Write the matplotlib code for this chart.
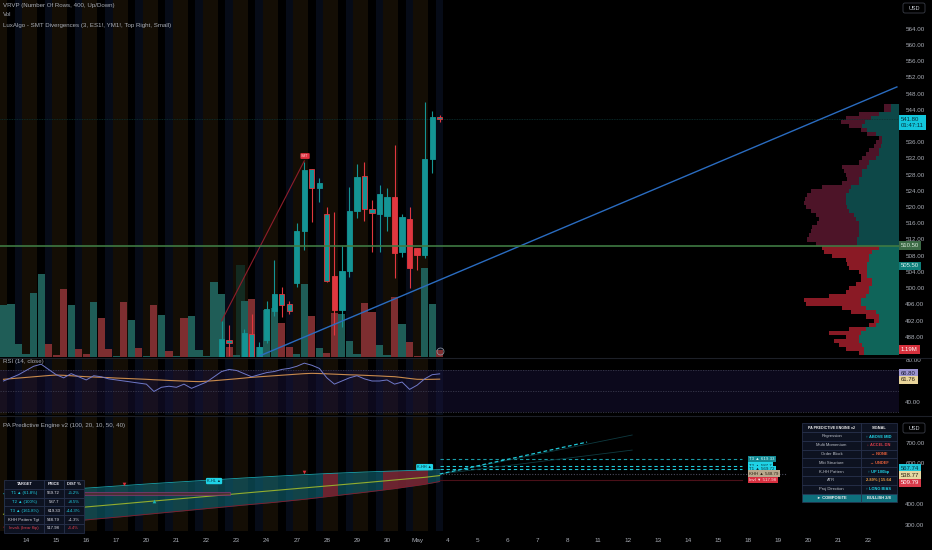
import matplotlib
matplotlib.use("Agg")
import matplotlib.pyplot as plt
import matplotlib.transforms as mtransforms
from matplotlib.patches import Rectangle, FancyBboxPatch
import numpy as np

plt.rcParams["font.family"] = ["Liberation Sans", "DejaVu Sans"]

# --------------------------------------------------
# ---------------------- data ----------------------
# --------------------------------------------------
day_labels = ["14", "15", "16", "17", "20", "21", "22", "23", "24", "27", "28", "29", "30",
              "May", "4", "5", "6", "7", "8", "11", "12", "13", "14", "15", "18", "19",
              "20", "21", "22"]

# volume per bar (millions), 1 = up bar, 0 = down bar
volume_m = [8.84, 8.96, 2.16, 0.46, 10.88, 14.11, 2.26, 0.34, 11.51, 8.84,
            1.36, 0.46, 9.40, 6.68, 1.36, 0.17, 9.35, 6.34, 1.58, 0.17,
            8.84, 7.14, 1.02, 0.17, 6.68, 6.92, 1.19, 0.17, 12.75, 10.66,
            1.75, 0.34, 9.52, 9.81, 1.70, 7.99, 8.38, 5.83, 1.75, 0.56,
            12.36, 6.97, 1.58, 0.63, 7.48, 7.36, 2.72, 0.46, 9.13, 7.65,
            2.04, 0.34, 10.20, 5.66, 2.60, 0.17, 15.08, 9.06, 1.19]
vol_up = [1, 1, 1, 1, 1, 1, 0, 0, 0, 1,
          0, 0, 1, 0, 0, 1, 0, 1, 0, 1,
          0, 1, 0, 1, 0, 1, 1, 1, 1, 1,
          0, 1, 1, 0, 1, 1, 1, 0, 0, 1,
          1, 0, 1, 0, 0, 1, 1, 1, 0, 0,
          1, 1, 0, 1, 0, 0, 1, 1, 0]

# candles visible in the price window (bars 29..58)
first_candle = 29
opens = [482.7, 487.3, 481.5, 482.6, 488.7, 482.6, 487.2, 494.3, 498.5, 496.0,
         501.2, 514.2, 529.3, 524.6, 518.3, 503.0, 494.6, 504.1, 519.0, 527.7,
         519.5, 518.3, 517.9, 522.4, 508.8, 517.1, 509.9, 508.2, 531.9, 542.2]
highs = [491.9, 490.9, 482.6, 489.9, 493.5, 486.8, 496.8, 506.9, 500.3, 496.8,
         516.0, 531.2, 529.5, 527.1, 520.0, 518.9, 510.4, 525.0, 530.6, 531.0,
         521.7, 525.5, 524.6, 535.3, 518.2, 520.0, 509.9, 545.9, 543.6, 542.8]
lows = [482.4, 483.2, 480.5, 482.0, 482.0, 482.0, 486.4, 493.1, 492.9, 493.6,
        500.3, 509.4, 516.4, 521.3, 501.6, 488.4, 490.5, 502.8, 517.2, 516.6,
        508.8, 509.0, 514.0, 502.6, 507.8, 500.1, 504.5, 507.4, 528.3, 541.0]
closes = [487.4, 486.4, 482.2, 488.8, 482.5, 485.5, 494.8, 498.5, 495.8, 494.3,
          514.2, 529.2, 524.6, 525.9, 501.8, 494.6, 504.1, 519.0, 527.4, 519.6,
          518.5, 523.2, 522.4, 508.6, 517.6, 504.9, 508.2, 531.9, 542.3, 541.8]
tinted_bars = [30, 33, 37, 38, 41, 43, 48, 49, 58]

last_price = 541.80
level_line = 510.50
level_2 = 505.50
smt_line_bars = [29, 40]
smt_line_prices = [491.9, 531.4]
trend_bars = [34.1, 118.8]
trend_prices = [483.3, 549.65]
price_ticks = [488, 492, 496, 500, 504, 508, 512, 516, 520, 524, 528, 532, 536,
               544, 548, 552, 556, 560, 564]

# visible range volume profile (1 point rows)
vp_price = list(range(545, 483, -1))
vp_total = [15, 15, 40, 53, 58, 50, 38, 32, 20, 23,
            25, 30, 33, 37, 40, 57, 55, 53, 52, 57,
            77, 88, 92, 94, 95, 93, 88, 83, 80, 82,
            87, 88, 90, 92, 83, 77, 75, 67, 53, 52,
            50, 40, 38, 38, 43, 50, 53, 70, 95, 93,
            57, 48, 33, 25, 30, 50, 70, 53, 65, 60,
            53, 40]
vp_up = [8, 8, 20, 28, 34, 37, 32, 23, 17, 17,
         18, 20, 20, 23, 30, 32, 37, 37, 40, 40,
         48, 50, 53, 53, 53, 52, 50, 45, 43, 40,
         40, 40, 40, 42, 42, 20, 27, 30, 30, 32,
         32, 32, 32, 27, 27, 30, 30, 33, 38, 38,
         33, 23, 20, 20, 23, 33, 38, 40, 40, 37,
         35, 35]

rsi = [60, 63, 66, 70, 74, 76, 71, 66, 63, 67,
       64, 61, 65, 64, 62, 61, 60, 59, 58, 57,
       50, 54, 55, 54, 57, 53, 56, 59, 64, 69,
       71, 70, 67, 64, 66, 68, 69, 71, 72, 74,
       77, 75, 72, 63, 57, 60, 63, 65, 62, 60,
       60, 61, 57, 59, 52, 56, 62, 66, 66.8]
rsi_ma = [61.6, 62.2, 62.8, 63.4, 64.0, 64.6, 65.2, 65.7, 65.4, 65.0,
          64.5, 64.1, 63.8, 63.5, 63.2, 62.8, 62.5, 62.2, 61.9, 61.6,
          61.2, 60.9, 60.5, 60.2, 59.9, 59.6, 59.4, 59.8, 60.3, 60.9,
          61.5, 62.1, 62.8, 63.5, 64.0, 64.5, 65.0, 65.5, 66.0, 66.5,
          67.0, 67.3, 67.1, 66.8, 66.5, 66.2, 65.9, 65.7, 65.4, 65.1,
          64.8, 64.4, 64.1, 63.3, 62.4, 61.6, 61.5, 61.6, 61.76]

# PA Predictive Engine regression channel
chan_bars = [0, 4, 8, 12, 16, 20, 24, 28, 32, 36, 40, 44, 48, 52, 56, 58]
chan_upper = [450, 460, 470, 480, 490, 500, 509, 518, 527, 535, 543, 550, 556, 561, 565.5, 567.74]
chan_mid = [350.2, 363.0, 376.0, 388.8, 401.5, 414.6, 427.3, 440.0, 453.2, 465.9,
            478.5, 491.2, 503.9, 517.1, 530.0, 538.77]
chan_lower = [287, 299, 312, 326, 339, 353, 367, 381, 395, 408, 423, 440, 457, 475, 496, 509.79]
bear_spans = [(43, 44), (51, 56)]
order_block = (10.2, 30.1, 444, 460)
bear_marks_bar = [16, 40]
bear_marks_price = [497.6, 556.0]
bull_marks_bar = [20]
bull_marks_price = [414.6]
callout_bars = [28, 56]
callout_prices = [512, 580]
callout_texts = ["K-HL ▲", "K-HH ▲"]

target_names = ["T1 ▲ (61.8%)", "T2 ▲ (100%)", "T3 ▲ (161.8%)", "KHH Pattern Tgt", "Invali. (bear flip)"]
target_prices = [569.72, 587.7, 619.33, 548.79, 517.98]
target_dist = ["+5.2%", "+8.5%", "+14.3%", "+1.3%", "-4.4%"]
proj_bars = [58, 77.6]
proj_prices = [546, 702]
cone_bars = [58, 83.6]
cone_hi = [546, 736.6]
cone_lo = [546, 663]

signal_names = ["Regression", "Multi Momentum", "Order Block", "Mkt Structure", "K-HH Pattern",
                "ATR", "Proj Direction", "► COMPOSITE"]
signal_values = ["↑ ABOVE MID", "↓ ACCEL DN", "→ NONE", "→ UNDEF", "↑ UP 100bp",
                 "2.89% | 15.64", "↑ LONG BIAS", "BULLISH 2/8"]

# --------------------------------------------------
# --------------------- layout ---------------------
# --------------------------------------------------
W, H = 932, 550
PLOT_R = 899
XL = (-0.465, 119.08)
n_bars = len(volume_m)

BG = "#000000"
TXT = "#a9adb6"
TEAL = "#149494"
RED = "#e0373f"
CYAN = "#1fd3e6"
session_cols = {0: "#140e05", 2: "#060b17", 3: "#140e05"}

fig = plt.figure(figsize=(W / 100, H / 100), dpi=100, facecolor=BG)


def rect(top, bottom):
    return [0, 1 - bottom / H, PLOT_R / W, (bottom - top) / H]


def sessions(ax):
    for k in range(n_bars):
        if k % 4 in session_cols:
            ax.axvspan(k - 0.5, k + 0.5, color=session_cols[k % 4], lw=0, zorder=0)


def price_label(ax, y, text, fc, tc):
    tr = mtransforms.blended_transform_factory(fig.transFigure, ax.transData)
    ax.text(901 / W, y, text, transform=tr, fontsize=4.3, color=tc, ha="left", va="center",
            linespacing=1.3, bbox=dict(boxstyle="square,pad=0.3", fc=fc, ec="none"),
            zorder=30, clip_on=False)


def clean(ax):
    for s in ax.spines.values():
        s.set_visible(False)
    ax.set_xlim(*XL)


MAIN_Y = (483.0, 571.1)

# background + volume + profile + candles (layered axes)
ax_bg = fig.add_axes(rect(0, 357), zorder=1)
ax_bg.set_facecolor(BG)
clean(ax_bg)
ax_bg.set_xticks([])
ax_bg.set_yticks([])
sessions(ax_bg)

ax_vol = fig.add_axes(rect(0, 357), zorder=2)
ax_vol.axis("off")
ax_vol.set_xlim(*XL)
ax_vol.set_ylim(0, 60.7)
ax_vol.bar(range(n_bars), volume_m, width=0.95,
           color=["#1f5d57" if u else "#7d2e30" for u in vol_up], lw=0)
ax_vol.bar(31.5, 15.6, width=1.1, color="#132a20", lw=0, zorder=0)

ax_vp = fig.add_axes(rect(0, 357), zorder=3)
ax_vp.axis("off")
ax_vp.set_xlim(PLOT_R, 0)
ax_vp.set_ylim(*MAIN_Y)
for p, tot, up in zip(vp_price, vp_total, vp_up):
    inside = p <= level_line
    ax_vp.barh(p, up, height=1.0, left=0, color="#0f6459" if inside else "#0d4848", lw=0)
    ax_vp.barh(p, tot - up, height=1.0, left=up, color="#8a1a25" if inside else "#4d1428", lw=0)

ax = fig.add_axes(rect(0, 357), zorder=4)
ax.patch.set_alpha(0)
clean(ax)
ax.set_ylim(*MAIN_Y)
ax.set_xticks([])
ax.set_yticks(price_ticks)
ax.set_yticklabels([f"{v:.2f}" for v in price_ticks])
ax.yaxis.tick_right()
ax.tick_params(axis="y", length=0, pad=4.5, labelsize=4.5, labelcolor=TXT)

ax.axhline(last_price, color="#0c3434", lw=0.6, ls=(0, (1, 1)), zorder=1)
for i, (o, h, l, c) in enumerate(zip(opens, highs, lows, closes)):
    k = first_candle + i
    col = TEAL if c >= o else RED
    face, edge = col, col
    if k in tinted_bars:
        face, edge = TEAL, RED
    ax.vlines(k, l, h, color=edge, lw=0.8, zorder=3)
    ax.add_patch(Rectangle((k - 0.35, min(o, c)), 0.7, max(abs(c - o), 0.2),
                           fc=face, ec=edge, lw=0.6, zorder=4))

ax.plot(smt_line_bars, smt_line_prices, color="#8e1d2b", lw=0.8, zorder=5)
ax.text(smt_line_bars[1] + 0.1, smt_line_prices[1] + 1.2, "SMT", fontsize=2.6, color="#ffd0d0",
        ha="center", va="center", zorder=6,
        bbox=dict(boxstyle="round,pad=0.25", fc="#e0303f", ec="none"))
ax.plot(trend_bars, trend_prices, color="#2a6cc0", lw=1.0, zorder=5)
ax.axhline(level_line, color="#3f7a43", lw=1.2, zorder=6)
ax.plot(58, 484.6, marker="o", ms=5, mfc="none", mec="#8a8f9a", mew=0.6, zorder=6)

price_label(ax, last_price - 0.9, "541.80\n01:47:11", "#13c6dc", "#05303a")
price_label(ax, level_line, "510.50", "#3c6a45", "#d8e8d8")
price_label(ax, level_2, "505.50", "#0e7e7a", "#d8f0f0")
price_label(ax, 484.9, "1.19M", "#d6303c", "#ffffff")

# --------------------------------------------------
# ----------------------- RSI ----------------------
# --------------------------------------------------
ax_r = fig.add_axes(rect(358, 415), zorder=4)
ax_r.set_facecolor(BG)
clean(ax_r)
ax_r.set_ylim(27.6, 81.9)
sessions(ax_r)
ax_r.axhspan(30, 70, color="#1c1440", alpha=0.45, lw=0, zorder=1)
for lvl in (70, 50, 30):
    ax_r.axhline(lvl, color="#3a3a4e", lw=0.6, ls=(0, (1.5, 1.5)), zorder=2)
ax_r.plot(range(n_bars), rsi_ma, color="#c98a4c", lw=0.8, zorder=3)
ax_r.plot(range(n_bars), rsi, color="#6f78c8", lw=0.7, zorder=4)
ax_r.set_xticks([])
ax_r.set_yticks([80, 40])
ax_r.set_yticklabels(["80.00", "40.00"])
ax_r.yaxis.tick_right()
ax_r.tick_params(axis="y", length=0, pad=4.5, labelsize=4.5, labelcolor=TXT)
price_label(ax_r, rsi[-1] + 0.8, "66.80", "#9c94d0", "#1a1a30")
price_label(ax_r, rsi_ma[-1] - 0.8, "61.76", "#e8d49a", "#2a2010")

# --------------------------------------------------
# ------------- PA Predictive Engine v2 ------------
# --------------------------------------------------
ax_p = fig.add_axes(rect(416, 531), zorder=4)
ax_p.set_facecolor(BG)
clean(ax_p)
ax_p.set_ylim(268.3, 829.3)
sessions(ax_p)

band = ax_p.fill_between(chan_bars, chan_lower, chan_upper, color="#127080", alpha=0.55, lw=0, zorder=2)
band_path = band.get_paths()[0]
for a, b in bear_spans:
    sp = ax_p.axvspan(a - 0.5, b + 0.5, color="#8a1a28", alpha=0.75, lw=0, zorder=3)
    sp.set_clip_path(band_path, ax_p.transData)
ax_p.plot(chan_bars, chan_upper, color="#1aa3ad", lw=0.6, zorder=4)
ax_p.plot(chan_bars, chan_lower, color="#8a1a2a", lw=0.6, zorder=4)
ax_p.plot(chan_bars, chan_mid, color="#93ad2e", lw=0.8, zorder=4)

x0, x1, p0, p1 = order_block
ax_p.add_patch(Rectangle((x0, p0), x1 - x0, p1 - p0, fc="#5a2c30", ec="#8a3a7a", lw=0.6,
                         alpha=0.8, zorder=4))
ax_p.scatter(bear_marks_bar, bear_marks_price, marker="v", s=7, color="#d8303c", lw=0, zorder=5)
ax_p.scatter(bull_marks_bar, bull_marks_price, marker="^", s=7, color="#18b4b4", lw=0, zorder=5)
for k, p, t in zip(callout_bars, callout_prices, callout_texts):
    ax_p.text(k, p, t, fontsize=2.8, color="#07303a", ha="center", va="center", zorder=6,
              bbox=dict(boxstyle="round,pad=0.3", fc=CYAN, ec="none"))

proj_end = 98.2
line_styles = {0: ("#20c8d8", (0, (3, 2.5))), 1: ("#20c8d8", (0, (3, 2.5))),
               2: ("#1a9aa6", (0, (3, 2.5)))}
for i in range(3):
    col, ls = line_styles[i]
    ax_p.plot([proj_bars[0], proj_end], [target_prices[i]] * 2, color=col, lw=0.8, ls=ls, zorder=5)
ax_p.plot([proj_bars[0], 104], [target_prices[3]] * 2, color="#4a4a5c", lw=0.8,
          ls=(0, (1, 1.5)), zorder=5)
ax_p.plot([proj_bars[0], proj_end], [target_prices[4]] * 2, color="#4a1018", lw=0.8, zorder=5)
ax_p.plot(proj_bars, proj_prices, color="#20c8d8", lw=0.9, ls=(0, (3, 2)), zorder=6)
ax_p.plot(cone_bars, cone_hi, color="#0e3a40", lw=0.6, zorder=5)
ax_p.plot(cone_bars, cone_lo, color="#0e3a40", lw=0.6, zorder=5)

proj_labels = [("T3 ▲ 619.33", 2, "#128a94", "#d8f8f8"),
               ("T2 ▲ 587.7", 1, CYAN, "#06303a"),
               ("T1 ▲ 569.72", 0, CYAN, "#06303a"),
               ("KHH ▲ 548.79", 3, "#b8a78c", "#2a2010"),
               ("Invl ▼ 517.98", 4, "#d83040", "#ffe0e0")]
for txt, idx, fc, tc in proj_labels:
    ax_p.text(proj_end + 1, target_prices[idx], txt, fontsize=3.2, color=tc, ha="left",
              va="center", zorder=7, bbox=dict(boxstyle="square,pad=0.25", fc=fc, ec="none"))

ax_p.set_yticks([700, 600, 400, 300])
ax_p.set_yticklabels(["700.00", "600.00", "400.00", "300.00"])
ax_p.yaxis.tick_right()
ax_p.tick_params(axis="y", length=0, pad=4.5, labelsize=4.5, labelcolor=TXT)
ax_p.set_xticks([3 + 4 * j for j in range(len(day_labels))])
ax_p.set_xticklabels(day_labels)
ax_p.tick_params(axis="x", length=0, pad=5, labelsize=4.6, labelcolor=TXT)
price_label(ax_p, 574, "567.74", "#20c5d8", "#06303a")
price_label(ax_p, chan_mid[-1], "538.77", "#e6d8a2", "#2a2010")
price_label(ax_p, 503, "509.79", "#d83a4a", "#ffffff")

# --------------------------------------------------
# ---------------- overlay (legends) ---------------
# --------------------------------------------------
ov = fig.add_axes([0, 0, 1, 1], zorder=20)
ov.axis("off")
ov.set_xlim(0, W)
ov.set_ylim(H, 0)

for yy in (357.5, 415.5):
    ov.plot([0, W], [yy, yy], color="#1d2028", lw=0.8)

legend_lines = [(5, "VRVP (Number Of Rows, 400, Up/Down)"), (15, "Vol"),
                (25, "LuxAlgo - SMT Divergences (3, ES1!, YM1!, Top Right, Small)"),
                (361, "RSI (14, close)"), (426, "PA Predictive Engine v2 (100, 20, 10, 50, 40)")]
for yy, t in legend_lines:
    ov.text(3, yy, t, fontsize=4.4, color=TXT, ha="left", va="center")

for yy in (3, 423):
    ov.add_patch(FancyBboxPatch((903, yy), 22, 10, boxstyle="round,pad=0,rounding_size=2",
                                fc=BG, ec="#3a3e48", lw=0.6))
    ov.text(914, yy + 5, "USD", fontsize=4.0, color="#c8ccd4", ha="center", va="center")


def table(x0, y0, col_w, row_h, rows):
    y = y0
    for cells, bg in rows:
        x = x0
        for (txt, col, bold, size), w in zip(cells, col_w):
            ov.add_patch(Rectangle((x, y), w, row_h, fc=bg, ec="#2a3450", lw=0.5))
            ov.text(x + w / 2, y + row_h / 2, txt, color=col, fontsize=size, ha="center",
                    va="center", fontweight="bold" if bold else "normal")
            x += w
        y += row_h


tbl_bg = "#0d1220"
t_cols = [CYAN, CYAN, CYAN, "#d0d0d8", "#e0404e"]
rows = [([("TARGET", "#e8e8f0", True, 2.9), ("PRICE", "#e8e8f0", True, 2.9),
          ("DIST %", "#e8e8f0", True, 2.9)], tbl_bg)]
for name, pr, dist, col in zip(target_names, target_prices, target_dist, t_cols):
    rows.append(([(name, col, False, 3.1), (f"{pr:g}", "#e8e8f0", False, 3.1),
                  (dist, col, False, 3.1)], tbl_bg))
table(4, 480, [40, 19.5, 20], 8.8, rows)

sig_cols = [CYAN, "#e0404e", "#e8603a", "#e8603a", CYAN, "#f0a040", CYAN, "#f0f0f0"]
rows = [([("PA PREDICTIVE ENGINE v2", "#f0f0f0", True, 2.6), ("SIGNAL", "#f0f0f0", True, 2.8)], tbl_bg)]
for i, (name, val, col) in enumerate(zip(signal_names, signal_values, sig_cols)):
    last = i == len(signal_names) - 1
    rows.append(([(name, "#f0f0f0" if last else "#c0c4cc", last, 3.0),
                  (val, col, True, 2.9)], "#0e6f7c" if last else tbl_bg))
table(802, 423.3, [59, 36], 8.78, rows)

fig.savefig("out.png", dpi=100, facecolor=BG)
